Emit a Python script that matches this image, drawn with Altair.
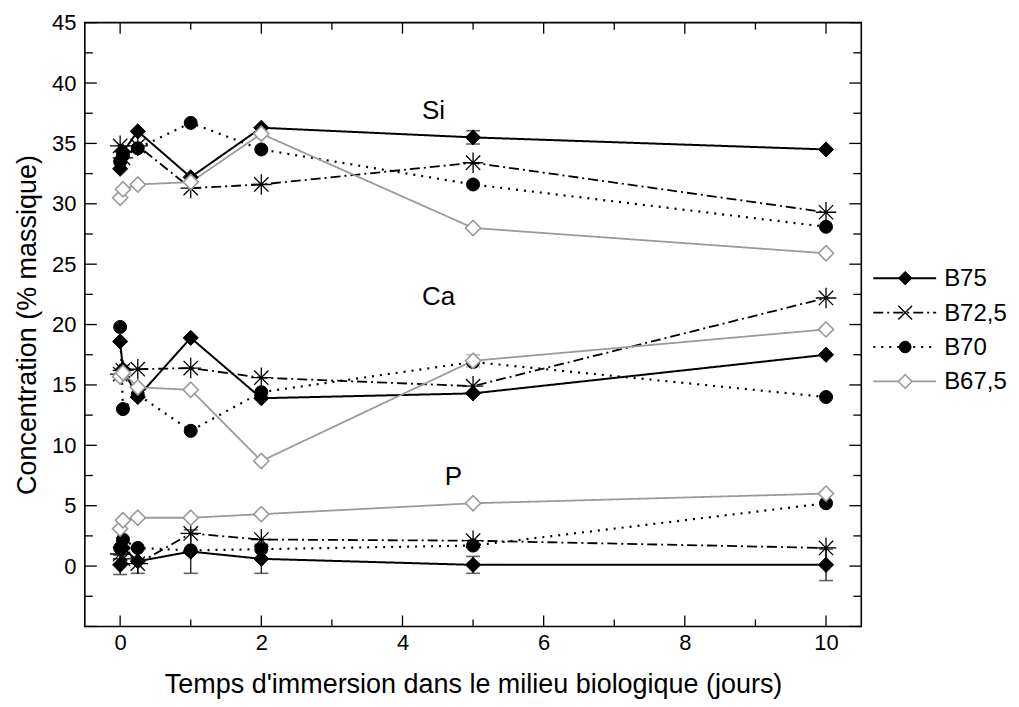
import altair as alt
import pandas as pd

# ---------------- data ----------------
times = [0, 0.04, 0.25, 1, 2, 5, 10]
series = ["B75", "B72,5", "B70", "B67,5"]
elements = ["Si", "Ca", "P"]

si_b75 = [32.9, 34.3, 36.0, 32.2, 36.3, 35.5, 34.5]
si_b725 = [34.8, 33.8, 34.8, 31.3, 31.6, 33.4, 29.3]
si_b70 = [33.5, 34.0, 34.6, 36.7, 34.5, 31.6, 28.1]
si_b675 = [30.5, 31.2, 31.6, 31.8, 35.8, 28.0, 25.9]

ca_b75 = [18.6, 16.3, 14.0, 18.9, 13.9, 14.3, 17.5]
ca_b725 = [15.9, 16.2, 16.3, 16.4, 15.6, 14.9, 22.2]
ca_b70 = [19.8, 13.0, 14.2, 11.2, 14.4, 16.9, 14.0]
ca_b675 = [15.7, 16.0, 14.8, 14.6, 8.7, 17.0, 19.6]

p_b75 = [0.1, 1.5, 0.4, 1.2, 0.6, 0.1, 0.1]
p_b725 = [1.0, 0.6, 0.2, 2.7, 2.2, 2.1, 1.5]
p_b70 = [1.5, 2.2, 1.5, 1.3, 1.4, 1.7, 5.2]
p_b675 = [3.1, 3.8, 4.0, 4.0, 4.3, 5.2, 6.0]

# error bars (0 = none visible)
si_b75_err = [0, 0, 0, 0, 0, 0.55, 0]
ca_b675_err = [0, 0, 0, 0, 0, 0.5, 0]
p_b75_err = [0.8, 0, 1.0, 1.8, 1.2, 0.7, 1.3]

x_major = [0, 2, 4, 6, 8, 10]
x_minor = [1, 3, 5, 7, 9]
y_labels = [0, 5, 10, 15, 20, 25, 30, 35, 40, 45]
y_major = [-5, 0, 5, 10, 15, 20, 25, 30, 35, 40, 45]
y_minor = [-2.5, 2.5, 7.5, 12.5, 17.5, 22.5, 27.5, 32.5, 37.5, 42.5]

element_labels = ["Si", "Ca", "P"]
label_x = [4.44, 4.51, 4.72]
label_y = [37.7, 22.3, 7.35]

# ---------------- build table ----------------
values = {
    ("Si", "B75"): si_b75, ("Si", "B72,5"): si_b725, ("Si", "B70"): si_b70, ("Si", "B67,5"): si_b675,
    ("Ca", "B75"): ca_b75, ("Ca", "B72,5"): ca_b725, ("Ca", "B70"): ca_b70, ("Ca", "B67,5"): ca_b675,
    ("P", "B75"): p_b75, ("P", "B72,5"): p_b725, ("P", "B70"): p_b70, ("P", "B67,5"): p_b675,
}
errs = {("Si", "B75"): si_b75_err, ("Ca", "B67,5"): ca_b675_err, ("P", "B75"): p_b75_err}

rows = []
for (el, s), vals in values.items():
    e = errs.get((el, s), [0] * len(times))
    for t, v, er in zip(times, vals, e):
        rows.append({"element": el, "series": s, "t": t, "v": v, "err": er,
                     "lo": v - er, "hi": v + er})
df = pd.DataFrame(rows)

W, H = 778, 605
FONT = "Liberation Sans"
GRAY = "#9a9a9a"

STAR = "M -1 0 L 1 0 M 0 -1 L 0 1 M -0.7 -0.7 L 0.7 0.7 M -0.7 0.7 L 0.7 -0.7"
XMARK = "M -0.8 -0.8 L 0.8 0.8 M -0.8 0.8 L 0.8 -0.8"

style = {
    "B75": dict(color="black", dash=[1, 0], width=2.0, shape="diamond", fill="black", size=230, sw=1),
    "B72,5": dict(color="black", dash=[10, 4, 2, 4], width=1.8, shape=STAR, fill="transparent", size=420, sw=1.3),
    "B70": dict(color="black", dash=[2, 6], width=2.2, shape="circle", fill="black", size=170, sw=1),
    "B67,5": dict(color=GRAY, dash=[1, 0], width=1.8, shape="diamond", fill="white", size=230, sw=1.6),
}

xscale = alt.Scale(domain=[-0.5, 10.5], nice=False, zero=False)
yscale = alt.Scale(domain=[-5, 45], nice=False, zero=False)

XTITLE = "Temps d'immersion dans le milieu biologique (jours)"
YTITLE = "Concentration (% massique)"

xaxis = alt.Axis(values=x_major, title=XTITLE,
                 grid=False, domain=False, ticks=False, labelPadding=6, titlePadding=18,
                 labelFontSize=22, titleFontSize=27, labelFont=FONT, titleFont=FONT,
                 labelColor="black", titleColor="black", titleFontWeight="normal", format="d")
yaxis = alt.Axis(values=y_labels, title=YTITLE,
                 grid=False, domain=False, ticks=False, labelPadding=9, titlePadding=10,
                 labelFontSize=22, titleFontSize=27, labelFont=FONT, titleFont=FONT,
                 labelColor="black", titleColor="black", titleFontWeight="normal", format="d")


def X(field):
    return alt.X(field, scale=xscale, axis=xaxis, title=XTITLE)


def Y(field):
    return alt.Y(field, scale=yscale, axis=yaxis, title=YTITLE)


base = alt.Chart(df)
layers = []

# lines
for s in series:
    st = style[s]
    layers.append(base.transform_filter(alt.datum.series == s).mark_line(
        color=st["color"], strokeDash=st["dash"], strokeWidth=st["width"]).encode(
        x=X("t:Q"), y=Y("v:Q"), detail="element:N", order="t:Q"))

# error bars
eb = base.transform_filter(alt.datum.err > 0)
ebcolor = alt.Color("series:N", scale=alt.Scale(domain=series, range=["#222", "#222", "#222", GRAY]), legend=None)
layers.append(eb.mark_rule(strokeWidth=1.4).encode(
    x=X("t:Q"), y=Y("lo:Q"), y2="hi:Q", color=ebcolor))
for f in ["lo", "hi"]:
    layers.append(eb.mark_tick(orient="horizontal", size=14, thickness=1.6).encode(
        x=X("t:Q"), y=Y(f + ":Q"), color=ebcolor))

# markers
for s in series:
    st = style[s]
    layers.append(base.transform_filter(alt.datum.series == s).mark_point(
        shape=st["shape"], size=st["size"], filled=True, fill=st["fill"], stroke=st["color"],
        strokeWidth=st["sw"], opacity=1).encode(x=X("t:Q"), y=Y("v:Q")))

# element labels
lab_df = pd.DataFrame({"label": element_labels, "lx": label_x, "ly": label_y})
layers.append(alt.Chart(lab_df).mark_text(fontSize=26, font=FONT, color="black").encode(
    x=X("lx:Q"), y=Y("ly:Q"), text="label:N"))


# inward ticks on all four sides
def xticks(vals, length):
    d = alt.Chart(pd.DataFrame({"tv": vals}))
    b = d.mark_rule(color="black", strokeWidth=1.3).encode(
        x=X("tv:Q"), y=alt.value(H), y2=alt.value(H - length))
    t = d.mark_rule(color="black", strokeWidth=1.3).encode(
        x=X("tv:Q"), y=alt.value(0), y2=alt.value(length))
    return [b, t]


def yticks(vals, length):
    d = alt.Chart(pd.DataFrame({"tv": vals}))
    l = d.mark_rule(color="black", strokeWidth=1.3).encode(
        y=Y("tv:Q"), x=alt.value(0), x2=alt.value(length))
    r = d.mark_rule(color="black", strokeWidth=1.3).encode(
        y=Y("tv:Q"), x=alt.value(W), x2=alt.value(W - length))
    return [l, r]


layers += xticks(x_major, 11) + xticks(x_minor, 7)
layers += yticks(y_major, 12) + yticks(y_minor, 8)

# manual legend (right of the plot)
leg_y0, leg_dy = 256, 34.5
for i, s in enumerate(series):
    st = style[s]
    yy = leg_y0 + i * leg_dy
    ld = alt.Chart(pd.DataFrame({"label": [s]}))
    layers.append(ld.mark_rule(color=st["color"], strokeDash=st["dash"], strokeWidth=st["width"]).encode(
        x=alt.value(790), x2=alt.value(853), y=alt.value(yy)))
    shp = XMARK if s == "B72,5" else st["shape"]
    layers.append(ld.mark_point(shape=shp, size=st["size"] * 0.8 if s != "B72,5" else 300,
                                filled=True, fill=st["fill"], stroke=st["color"],
                                strokeWidth=st["sw"], opacity=1).encode(
        x=alt.value(822), y=alt.value(yy)))
    layers.append(ld.mark_text(align="left", baseline="middle", fontSize=24, font=FONT, color="black").encode(
        x=alt.value(861), y=alt.value(yy + 1), text="label:N"))

chart = alt.layer(*layers).properties(
    width=W, height=H,
    autosize=alt.AutoSizeParams(type="none"),
    padding={"left": 77, "top": 14, "right": 150, "bottom": 72},
).configure(background="white").configure_view(stroke="black", strokeWidth=1.6)

chart.save("out.html", embed_options={"renderer": "svg", "actions": False})
